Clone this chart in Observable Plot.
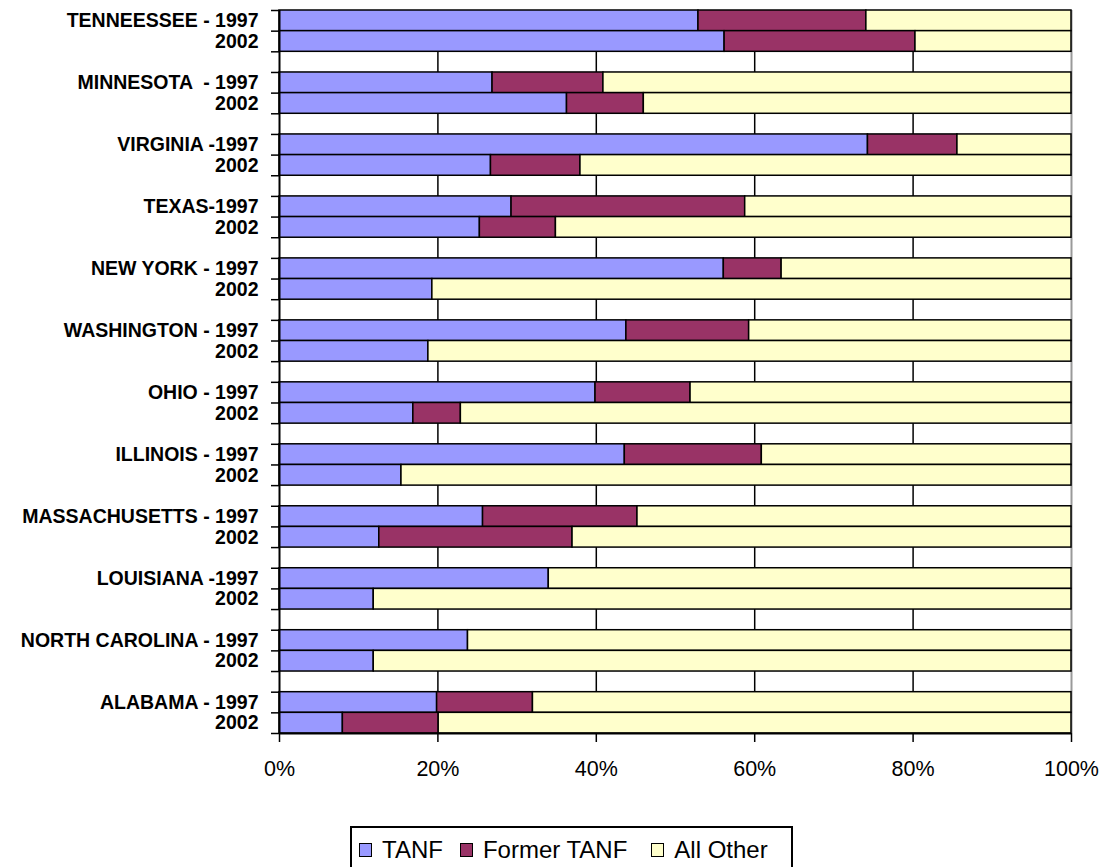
<!DOCTYPE html>
<html>
<head>
<meta charset="utf-8">
<script src="https://cdn.jsdelivr.net/npm/d3@7"></script>
<script src="https://cdn.jsdelivr.net/npm/@observablehq/plot@0.6"></script>
<style>
  html, body { margin: 0; padding: 0; background: #fff; }
  #wrap { position: relative; width: 1104px; height: 867px; overflow: hidden; font-family: "Liberation Sans", Arial, sans-serif; }
  #legend { position: absolute; left: 350px; top: 826px; width: 443px; height: 60px; border: 2px solid #000; box-sizing: border-box; display: flex; align-items: flex-start; padding: 10px 0 0 7px; }
  .item { display: flex; align-items: center; font-size: 24px; line-height: 24px; color: #000; }
  .sw { width: 11px; height: 12px; border: 1.5px solid #000; margin-right: 10px; }
</style>
</head>
<body>
<div id="wrap"><div id="chart"></div><div id="legend"></div></div>
<script>
// Row labels (top to bottom), each state has a 1997 row and a 2002 row
const labels1997 = ["TENNEESSEE - 1997", "MINNESOTA  - 1997", "VIRGINIA -1997", "TEXAS-1997", "NEW YORK - 1997", "WASHINGTON - 1997", "OHIO - 1997", "ILLINOIS - 1997", "MASSACHUSETTS - 1997", "LOUISIANA -1997", "NORTH CAROLINA - 1997", "ALABAMA - 1997"];
const labels2002 = ["2002", "2002", "2002", "2002", "2002", "2002", "2002", "2002", "2002", "2002", "2002", "2002"];

// Series names and colors
const seriesNames = ["TANF", "Former TANF", "All Other"];
const seriesColors = ["#9999FF", "#993366", "#FFFFCC"];

// Values (% of total)
const tanf1997     = [52.9, 26.9, 74.3, 29.3, 56.1, 43.8, 39.9, 43.6, 25.7, 34.0, 23.8, 19.9];
const former1997   = [21.2, 14.0, 11.3, 29.5,  7.3, 15.5, 12.0, 17.3, 19.5,  0.0,  0.0, 12.1];
const allOther1997 = [25.9, 59.1, 14.4, 41.2, 36.6, 40.7, 48.1, 39.1, 54.8, 66.0, 76.2, 68.0];
const tanf2002     = [56.2, 36.3, 26.7, 25.3, 19.3, 18.8, 16.9, 15.4, 12.6, 11.9, 11.9,  8.0];
const former2002   = [24.1,  9.7, 11.3,  9.6,  0.0,  0.0,  6.0,  0.0, 24.4,  0.0,  0.0, 12.1];
const allOther2002 = [19.7, 54.0, 62.0, 65.1, 80.7, 81.2, 77.1, 84.6, 63.0, 88.1, 88.1, 79.9];

const xTicks = [0, 20, 40, 60, 80, 100];

// Build table: slot index (3 slots per state: 1997, 2002, gap)
const nSlots = labels1997.length * 3 - 1;
const rows = [];
const rowLabels = [];
labels1997.forEach((lab, g) => {
  const s97 = g * 3, s02 = g * 3 + 1;
  rowLabels.push({slot: s97, label: lab});
  rowLabels.push({slot: s02, label: labels2002[g]});
  [[s97, [tanf1997[g], former1997[g], allOther1997[g]]], [s02, [tanf2002[g], former2002[g], allOther2002[g]]]]
    .forEach(([slot, vals]) => {
      vals.forEach((v, i) => {
        if (v > 0) rows.push({slot, series: seriesNames[i], value: v});
      });
    });
});

const chart = Plot.plot({
  width: 1104,
  height: 800,
  marginLeft: 279,
  marginRight: 33,
  marginTop: 10,
  marginBottom: 67,
  style: {fontFamily: '"Liberation Sans", Arial, sans-serif', background: "#fff", color: "#000"},
  x: {domain: [0, 100], label: null},
  y: {domain: [0, nSlots], reverse: true, label: null},
  color: {domain: seriesNames, range: seriesColors},
  marks: [
    Plot.ruleX(xTicks.filter(d => d > 0 && d < 100), {y1: 0, y2: nSlots, stroke: "#000", strokeWidth: 1.5}),
    Plot.ruleX([100], {y1: 0, y2: nSlots, stroke: "#999", strokeWidth: 2}),
    Plot.rectX(rows, {
      x: "value", y1: "slot", y2: d => d.slot + 1, fill: "series",
      stroke: "#000", strokeWidth: 1.5, order: seriesNames
    }),
    Plot.axisY({ticks: d3.range(0, nSlots + 1), tickSize: 8, tickFormat: () => "", stroke: "#000", strokeWidth: 1.5, label: null}),
    Plot.axisX({ticks: xTicks, tickSize: 9, tickPadding: 18, tickFormat: d => d + "%", fontSize: 21.5, stroke: "#000", strokeWidth: 1.5, label: null}),
    Plot.ruleX([0], {y1: 0, y2: nSlots, stroke: "#000", strokeWidth: 2}),
    Plot.ruleY([nSlots], {x1: 0, x2: 100, stroke: "#000", strokeWidth: 2}),
    Plot.text(rowLabels, {
      x: 0, y: d => d.slot + 0.5, text: "label", dx: -21, textAnchor: "end",
      fontWeight: "bold", fontSize: 19.5, fill: "#000"
    })
  ]
});
document.getElementById("chart").appendChild(chart);

// Legend
const legend = document.getElementById("legend");
seriesNames.forEach((name, i) => {
  const item = document.createElement("div");
  item.className = "item";
  item.style.marginRight = i === 0 ? "17px" : (i === 1 ? "24px" : "0");
  const sw = document.createElement("div");
  sw.className = "sw";
  sw.style.background = seriesColors[i];
  const tx = document.createElement("span");
  tx.textContent = name;
  item.appendChild(sw);
  item.appendChild(tx);
  legend.appendChild(item);
});
</script>
</body>
</html>
